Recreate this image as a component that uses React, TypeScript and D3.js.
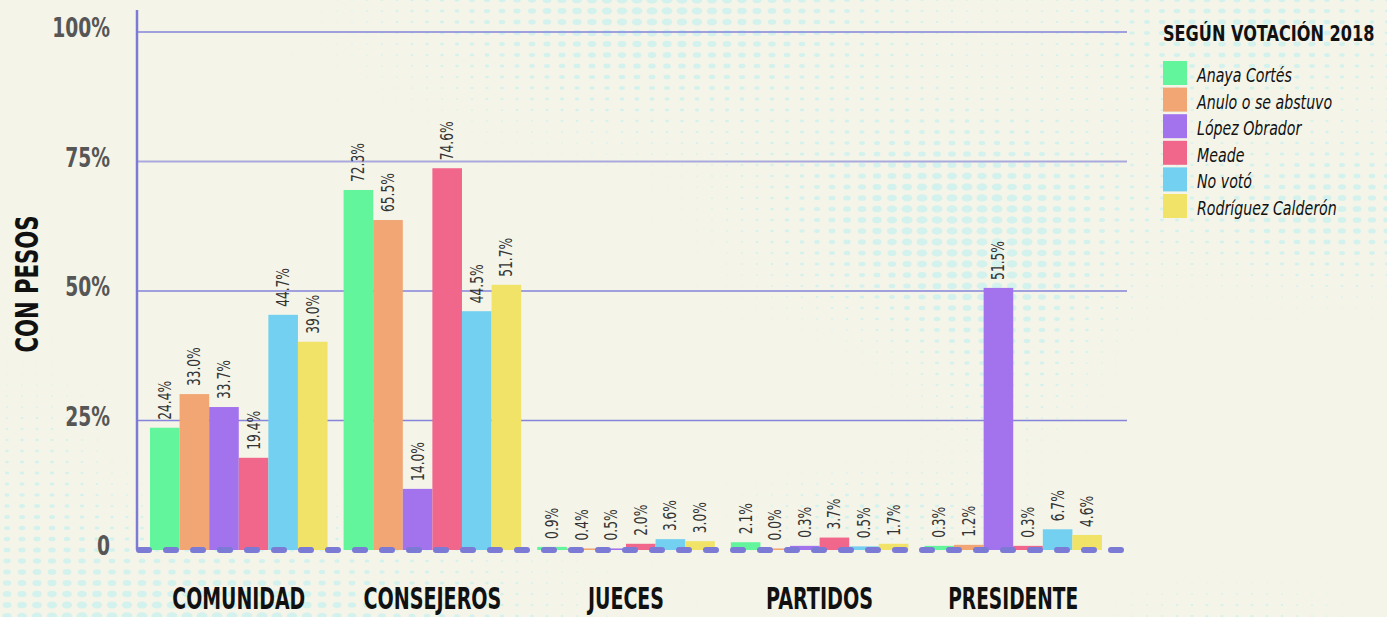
import React from "react";
import * as d3 from "d3";

const categories = ["COMUNIDAD", "CONSEJEROS", "JUECES", "PARTIDOS", "PRESIDENTE"];
const seriesNames = ["Anaya Cortés", "Anulo o se abstuvo", "López Obrador", "Meade", "No votó", "Rodríguez Calderón"];
const seriesColors = ["#63f59b", "#f1a673", "#a373ee", "#f1668b", "#73d0f0", "#f1e367"];

// bar heights (weighted) per series, across categories
const anayaValues = [23.6, 69.5, 0.6, 1.5, 0.8];
const anuloValues = [30.1, 63.7, 0.3, 0.3, 1.0];
const lopezValues = [27.6, 11.8, 0.3, 0.8, 50.6];
const meadeValues = [17.8, 73.7, 1.2, 2.4, 0.8];
const novotoValues = [45.4, 46.1, 2.1, 0.7, 4.0];
const rodriguezValues = [40.2, 51.2, 1.7, 1.2, 2.9];

// printed labels per series
const anayaLabels = ["24.4%", "72.3%", "0.9%", "2.1%", "0.3%"];
const anuloLabels = ["33.0%", "65.5%", "0.4%", "0.0%", "1.2%"];
const lopezLabels = ["33.7%", "14.0%", "0.5%", "0.3%", "51.5%"];
const meadeLabels = ["19.4%", "74.6%", "2.0%", "3.7%", "0.3%"];
const novotoLabels = ["44.7%", "44.5%", "3.6%", "0.5%", "6.7%"];
const rodriguezLabels = ["39.0%", "51.7%", "3.0%", "1.7%", "4.6%"];

const yTicks = [0, 25, 50, 75, 100];
const yTickLabels = ["0", "25%", "50%", "75%", "100%"];

const allValues = [anayaValues, anuloValues, lopezValues, meadeValues, novotoValues, rodriguezValues];
const allLabels = [anayaLabels, anuloLabels, lopezLabels, meadeLabels, novotoLabels, rodriguezLabels];

const W = 1387;
const H = 617;
const FONT = "'DejaVu Sans', sans-serif";
const BG = "#f4f4e9";
const AXIS = "#7b7bd6";
const CATW: Record<string, number> = { COMUNIDAD: 133, CONSEJEROS: 138, JUECES: 76, PARTIDOS: 107, PRESIDENTE: 130 };

// decorative halftone background blobs
const blobs = [
  { cx: 660, cy: 0, sx: 230, sy: 110, a: 1.0 },
  { cx: 950, cy: 215, sx: 170, sy: 95, a: 1.0 },
  { cx: 1340, cy: 210, sx: 140, sy: 70, a: 0.8 },
  { cx: 1250, cy: 30, sx: 170, sy: 70, a: 0.75 },
  { cx: 200, cy: 640, sx: 300, sy: 100, a: 1.1 },
  { cx: 880, cy: 510, sx: 120, sy: 40, a: 0.45 },
  { cx: 1000, cy: 330, sx: 90, sy: 110, a: 0.5 },
  { cx: 30, cy: 500, sx: 70, sy: 120, a: 0.4 },
  { cx: 1230, cy: 610, sx: 120, sy: 30, a: 0.3 },
];

function dotGrid() {
  const dots: { x: number; y: number; rx: number; ry: number }[] = [];
  for (let y = 0; y <= H + 5; y += 11) {
    for (let x = 7; x <= W + 5; x += 15) {
      let v = 0;
      for (const b of blobs) {
        const dx = (x - b.cx) / b.sx;
        const dy = (y - b.cy) / b.sy;
        v += b.a * Math.exp(-(dx * dx + dy * dy));
      }
      v = Math.min(1, v);
      if (v > 0.06) dots.push({ x, y, rx: 5.5 * v, ry: 3.7 * v });
    }
  }
  return dots;
}

export default function App() {
  const x0 = d3.scaleBand<string>().domain(categories).range([150, 1102]).paddingInner(0.083).paddingOuter(0);
  const x1 = d3.scaleBand<string>().domain(seriesNames).range([0, x0.bandwidth()]).padding(0);
  const y = d3.scaleLinear().domain([0, 100]).range([550, 32]);
  const dots = dotGrid();

  return (
    <svg width={W} height={H} style={{ display: "block", position: "absolute", left: 0, top: 0 }}>
      <rect x={0} y={0} width={W} height={H} fill={BG} />
      <g>
        {dots.map((d, i) => (
          <ellipse key={i} cx={d.x} cy={d.y} rx={d.rx} ry={d.ry} fill="#d3f2ed" />
        ))}
      </g>

      {/* gridlines */}
      {yTicks.filter((t) => t > 0).map((t) => (
        <line key={t} x1={137} x2={1127} y1={y(t)} y2={y(t)} stroke={t === 75 ? "#a9a9de" : "#8585da"} strokeWidth={t === 75 ? 2 : 1.5} />
      ))}
      {/* y axis */}
      <line x1={137} x2={137} y1={10} y2={550} stroke={AXIS} strokeWidth={2.5} />

      {/* y tick labels */}
      {yTicks.map((t, i) => (
        <text key={t} transform={`translate(110,${y(t) + 5}) scale(0.8,1)`} textAnchor="end" fontFamily={FONT} fontStretch="condensed" fontWeight="bold" fontSize={26} fill="#565656">
          {yTickLabels[i]}
        </text>
      ))}

      <text transform={`translate(38,284) rotate(-90)`} textAnchor="middle" fontFamily={FONT} fontStretch="condensed" fontWeight="bold" fontSize={32} textLength={137} lengthAdjust="spacingAndGlyphs" fill="#111">
        CON PESOS
      </text>

      {/* bars */}
      {categories.map((c, ci) => (
        <g key={c} transform={`translate(${x0(c)},0)`}>
          {seriesNames.map((s, si) => {
            const v = allValues[si][ci];
            const bx = x1(s)!;
            return (
              <rect key={s} x={bx} y={y(v)} width={x1.bandwidth()} height={y(0) - y(v)} fill={seriesColors[si]} />
            );
          })}
        </g>
      ))}

      {/* x axis dashed */}
      <line x1={139} x2={1124} y1={550} y2={550} stroke={AXIS} strokeWidth={6} strokeLinecap="round" strokeDasharray="10 17" />

      {/* value labels */}
      {categories.map((c, ci) => (
        <g key={c} transform={`translate(${x0(c)},0)`}>
          {seriesNames.map((s, si) => {
            const v = allValues[si][ci];
            const cx = x1(s)! + x1.bandwidth() / 2;
            return (
              <text key={s} transform={`translate(${cx + 6},${y(v) - 8}) rotate(-90) scale(0.8,1)`} fontFamily={FONT} fontStretch="condensed" fontSize={17} fill="#333">
                {allLabels[si][ci]}
              </text>
            );
          })}
        </g>
      ))}

      {/* x labels */}
      {categories.map((c) => (
        <text key={c} x={x0(c)! + x0.bandwidth() / 2 - CATW[c] / 2} y={609} fontFamily={FONT} fontStretch="condensed" fontWeight="bold" fontSize={31} textLength={CATW[c]} lengthAdjust="spacingAndGlyphs" fill="#111">
          {c}
        </text>
      ))}

      {/* legend */}
      <text transform="translate(1163,41) scale(0.815,1)" fontFamily={FONT} fontStretch="condensed" fontWeight="bold" fontSize={22} fill="#111">
        SEGÚN VOTACIÓN 2018
      </text>
      {seriesNames.map((s, i) => (
        <g key={s} transform={`translate(1163,${61 + i * 26.6})`}>
          <rect x={0} y={0} width={24} height={24} fill={seriesColors[i]} />
          <text transform="translate(34,21) scale(0.83,1)" fontFamily={FONT} fontStretch="condensed" fontStyle="italic" fontSize={19} fill="#111">
            {s}
          </text>
        </g>
      ))}
    </svg>
  );
}
